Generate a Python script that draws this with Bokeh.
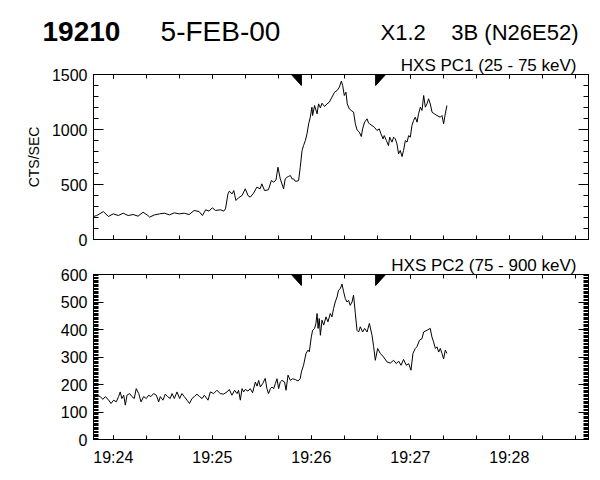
from bokeh.plotting import figure
from bokeh.layouts import column
from bokeh.models import (LinearAxis, FixedTicker, SingleIntervalTicker, Range1d)
from bokeh.core.properties import value
from bokeh.embed import file_html
from bokeh.resources import INLINE

# ---- data: seconds after 19:24:00 UT ----
pc1_t = [-12, -10, -6, -3, 0, 3, 6, 9, 12, 15, 18, 21, 22, 25, 28, 31, 34, 37, 40, 43,
         46, 49, 52, 54, 56, 58, 60, 62, 65, 67, 68, 69.5, 70.3, 72, 73, 74.3, 75.9, 78, 80,
         81.6, 83, 85, 87, 89, 90, 91.7, 94, 95.8, 97.2, 98.6, 99.8, 101.2, 103.2, 104.2,
         105.3, 106.2, 107.3, 108.3, 109.3, 110.3, 111.3, 112.3, 113.3, 114.4, 115.3, 116.4,
         117.4, 118.4, 119.4, 120.4, 120.8, 122, 123.5, 124.4, 125.5, 126.5, 128.1, 129.5,
         130.9, 132.5, 134.1, 135.6, 137, 138.2, 139, 140, 141, 141.8, 143, 144.2, 145.6,
         146.7, 147.7, 149.1, 150.3, 151.1, 152.3, 153.8, 154.7, 155.3, 156.8, 158.2, 159.8,
         161.2, 162.2, 163.5, 164.2, 165.5, 166.8, 167.5, 168.9, 169.9, 170.9, 171.9, 172.9,
         173.9, 175, 175.9, 177, 178, 179, 180, 181, 182, 183, 184.1, 185, 186.1, 187.1,
         188.1, 189.1, 190.1, 191.1, 192.1, 193.2, 194.5, 196.2, 198.2, 199.2, 200.2, 201.2,
         202.2]
pc1_v = [209, 218, 254, 209, 233, 218, 239, 218, 227, 212, 248, 218, 203, 224, 233, 239, 224,
         242, 233, 239, 227, 264, 254, 218, 270, 258, 288, 264, 270, 258, 279, 415, 439, 415,
         445, 355, 379, 400, 461, 400, 385, 421, 476, 461, 506, 445, 452, 536, 521, 542, 657,
         551, 461, 551, 566, 573, 582, 551, 551, 530, 530, 536, 657, 809, 854, 900, 961, 1052,
         1112, 1203, 1127, 1218, 1142, 1233, 1197, 1239, 1209, 1233, 1248, 1294, 1339, 1354,
         1385, 1439, 1400, 1309, 1339, 1233, 1188, 1173, 1158, 1052, 997, 976, 936, 1006, 1067,
         1097, 1058, 1052, 1036, 1021, 991, 1006, 961, 915, 945, 900, 854, 930, 885, 930, 915,
         870, 779, 809, 754, 809, 900, 885, 945, 930, 1036, 1082, 1112, 1067, 1143, 1203, 1173,
         1309, 1203, 1233, 1279, 1233, 1157, 1143, 1127, 1112, 1127, 1052, 1143, 1218]

pc2_t = [-11.9, -9.9, -7.9, -6.3, -4.8, -2.8, -1.4, 0.2, 1.8, 3.2, 4.2, 5.2, 6.3, 7.3, 8.3,
         9.9, 11.3, 12.7, 13.9, 15.4, 16.8, 18.4, 20, 21.4, 22.8, 24.4, 26.1, 27.5, 28.5,
         30.1, 31.5, 32.9, 34.5, 35.6, 37, 38.6, 40.2, 41.6, 43, 44.7, 46.2, 47.7, 49.1,
         50.7, 52.3, 53.8, 55.2, 57.4, 58.8, 60.8, 62.8, 64.8, 66.8, 68.9, 70.3, 71.9, 73.5,
         75, 75.9, 77, 78, 79, 80, 81.6, 83, 84.4, 86.1, 87.1, 88.1, 89.1, 90.5, 92.1, 93.1,
         94.1, 95.2, 96.2, 97.2, 98.2, 99.2, 100.2, 101.2, 102.2, 103.8, 104.7, 105.9, 107.3,
         108.7, 110.3, 111.9, 113.3, 114, 115.3, 116.8, 118, 118.8, 120, 120.8, 122, 122.8,
         123.5, 124.1, 124.8, 125.5, 126.5, 127.5, 128.9, 130.1, 131.5, 132.5, 133.5, 134.5,
         135.6, 136.5, 137.6, 138.6, 139.6, 140.6, 141.6, 142.6, 143.6, 144.7, 145.6, 146.7,
         147.7, 148.7, 149.7, 151.1, 152.3, 153.8, 155.2, 156.8, 157.8, 158.8, 160.2, 161.8,
         163.8, 165.9, 167.9, 169.9, 171.5, 172.9, 174.4, 175.9, 177.6, 179, 180.4, 181.6,
         183, 184, 185.6, 187.1, 188.1, 190.1, 192.1, 193.1, 194.1, 195.2, 196.2, 197.2,
         198.2, 199.2, 200.2, 201.2, 202.2]
pc2_v = [149, 161, 156, 146, 156, 143, 131, 143, 137, 156, 173, 149, 161, 125, 161, 167, 156,
         149, 185, 167, 137, 156, 149, 161, 156, 167, 161, 137, 156, 143, 165, 156, 149, 167,
         149, 173, 149, 167, 156, 143, 131, 149, 156, 165, 156, 149, 161, 143, 173, 167, 179,
         167, 165, 173, 182, 161, 179, 167, 179, 143, 185, 173, 182, 176, 185, 170, 209, 194,
         215, 191, 203, 222, 185, 167, 185, 191, 185, 203, 221, 185, 209, 215, 209, 179, 234,
         215, 221, 218, 213, 221, 246, 270, 313, 325, 319, 373, 397, 404, 422, 458, 404, 440,
         379, 434, 416, 446, 428, 458, 446, 476, 500, 518, 543, 549, 565, 537, 513, 500, 506,
         488, 500, 525, 458, 397, 391, 410, 391, 404, 391, 422, 379, 337, 288, 331, 313, 300,
         282, 278, 288, 276, 285, 270, 291, 270, 276, 252, 313, 331, 337, 361, 367, 391, 397,
         404, 373, 355, 331, 337, 318, 331, 313, 293, 325, 313]

marker_t = [114, 159]
x_major = [0, 60, 120, 180, 240]
x_labels = ["19:24", "19:25", "19:26", "19:27", "19:28"]
x_minor = [0, 20, 40, 60, 80, 100, 120, 140, 160, 180, 200, 220, 240, 260, 280]

header_left = ["19210", "5-FEB-00"]
header_right = ["X1.2", "3B (N26E52)"]

X0, X1 = -12, 288
FONT = "Liberation Sans"
W = 596


def style_axis(ax, major_in, minor_in, labels=True, standoff=6):
    ax.major_tick_in = major_in
    ax.major_tick_out = 0
    ax.minor_tick_in = minor_in
    ax.minor_tick_out = 0
    ax.axis_line_color = "black"
    ax.major_tick_line_color = "black"
    ax.minor_tick_line_color = "black"
    ax.major_label_text_color = "black"
    ax.major_label_text_font = FONT
    ax.major_label_text_font_size = "16px"
    ax.major_label_standoff = standoff
    if not labels:
        ax.major_label_text_font_size = "1px"
        ax.major_label_text_color = None
        ax.major_label_standoff = 0


def make_panel(t, v, ymax, yint, yminor, height, top, bottom, title, show_x):
    p = figure(width=W, height=height, x_range=Range1d(X0, X1), y_range=Range1d(0, ymax),
               output_backend="svg", toolbar_location=None,
               min_border_left=93, min_border_right=8, min_border_top=top,
               min_border_bottom=bottom)
    p.outline_line_color = "black"
    p.grid.visible = False
    p.background_fill_color = "white"
    p.border_fill_color = "white"

    p.title.text = title
    p.title.align = "right"
    p.title.offset = 12
    p.title.standoff = 0
    p.title.text_font = FONT
    p.title.text_font_size = "17px"
    p.title.text_font_style = "normal"
    p.title.text_color = "black"

    xt = FixedTicker(ticks=x_major, minor_ticks=x_minor)
    yt = SingleIntervalTicker(interval=yint, num_minor_ticks=yminor)

    p.xaxis.ticker = xt
    p.xaxis.major_label_overrides = {k: s for k, s in zip(x_major, x_labels)}
    style_axis(p.xaxis[0], 4, 4, labels=show_x, standoff=9)
    p.yaxis.ticker = yt
    style_axis(p.yaxis[0], 10, 5, standoff=6)

    top_ax = LinearAxis(ticker=xt)
    style_axis(top_ax, 4, 4, labels=False)
    p.add_layout(top_ax, "above")
    right_ax = LinearAxis(ticker=yt)
    style_axis(right_ax, 10, 5, labels=False)
    p.add_layout(right_ax, "right")

    p.line(t, v, line_color="black", line_width=1)

    # event markers at the top edge
    w = (X1 - X0) * 10 / 495
    h = ymax * 11 / 165
    t1, t2 = marker_t
    p.patches([[t1 - w, t1, t1], [t2, t2 + w, t2]],
              [[ymax, ymax, ymax - h], [ymax, ymax, ymax - h]],
              fill_color="black", line_color="black")
    return p


# header strip (pixel coordinates, y downward)
hdr = figure(width=W, height=50, x_range=Range1d(0, W), y_range=Range1d(50, 0),
             x_axis_type=None, y_axis_type=None, min_border=0,
             min_border_left=0, min_border_right=0, min_border_top=0, min_border_bottom=0,
             output_backend="svg", toolbar_location=None)
hdr.outline_line_color = None
hdr.grid.visible = False
hdr.text(x=[42], y=[31], text=[header_left[0]], text_font=value(FONT),
         text_font_size="28px", text_font_style="bold", text_baseline="middle",
         text_color="black")
hdr.text(x=[220], y=[31], text=[header_left[1]], text_font=value(FONT),
         text_font_size="28px", text_align="center", text_baseline="middle",
         text_color="black")
hdr.text(x=[380], y=[32], text=[header_right[0]], text_font=value(FONT),
         text_font_size="22px", text_baseline="middle", text_color="black")
hdr.text(x=[578], y=[32], text=[header_right[1]], text_font=value(FONT),
         text_font_size="22px", text_align="right", text_baseline="middle",
         text_color="black")

p1 = make_panel(pc1_t, pc1_v, 1500, 500, 5, 200, 24, 11, "HXS PC1 (25 - 75 keV)", False)
p1.yaxis[0].axis_label = "CTS/SEC"
p1.yaxis[0].axis_label_text_font = FONT
p1.yaxis[0].axis_label_text_font_size = "14px"
p1.yaxis[0].axis_label_text_font_style = "normal"
p1.yaxis[0].axis_label_text_color = "black"
p1.yaxis[0].axis_label_standoff = 7

p2 = make_panel(pc2_t, pc2_v, 600, 100, 20, 228, 24, 39, "HXS PC2 (75 - 900 keV)", True)

layout = column(hdr, column(p1, p2))
open("out.html", "w").write(file_html(layout, INLINE))
